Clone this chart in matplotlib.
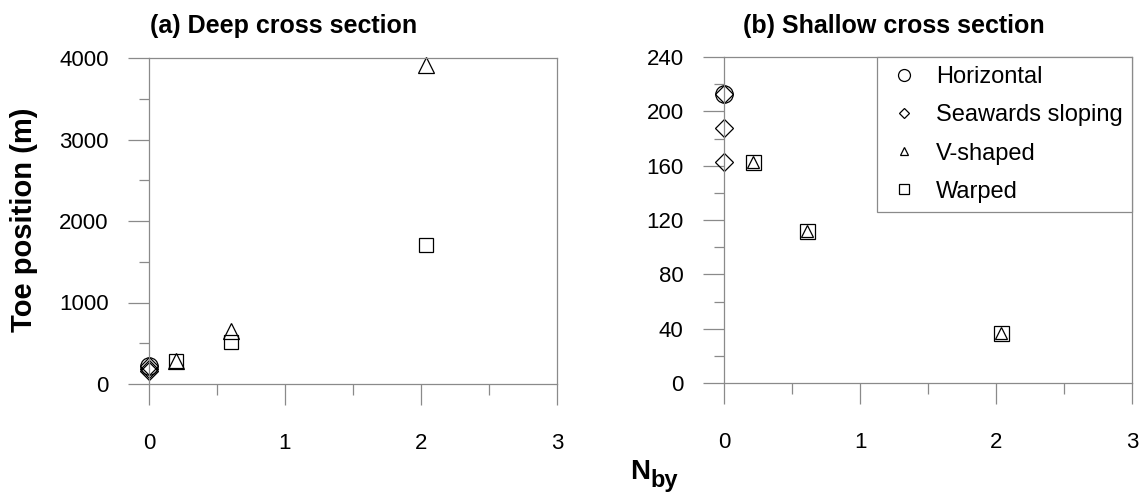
import matplotlib
matplotlib.use('Agg')
import matplotlib.pyplot as plt
from matplotlib.lines import Line2D
from matplotlib.ticker import MultipleLocator

plt.rcParams['font.family'] = ['Liberation Sans', 'DejaVu Sans']

# ── data ──
nby_horizontal_deep = [0.0]
toe_horizontal_deep = [215]
nby_seaward_deep = [0.0, 0.0, 0.0]
toe_seaward_deep = [155, 185, 215]
nby_vshaped_deep = [0.2, 0.6, 2.04]
toe_vshaped_deep = [282, 650, 3920]
nby_warped_deep = [0.2, 0.6, 2.04]
toe_warped_deep = [282, 520, 1705]

nby_horizontal_shallow = [0.0]
toe_horizontal_shallow = [213]
nby_seaward_shallow = [0.0, 0.0, 0.0]
toe_seaward_shallow = [213, 187.5, 162.5]
nby_vshaped_shallow = [0.21, 0.61, 2.04]
toe_vshaped_shallow = [162.5, 112, 37]
nby_warped_shallow = [0.21, 0.61, 2.04]
toe_warped_shallow = [162.5, 112, 37]

series_labels = ['Horizontal', 'Seawards sloping', 'V-shaped', 'Warped']

AXIS_GREY = '#8a8a8a'
W, H = 1141, 495

fig = plt.figure(figsize=(W / 100, H / 100), dpi=100)
ax1 = fig.add_axes([149 / W, 111 / H, 408 / W, 326 / H])
ax2 = fig.add_axes([724 / W, 112 / H, 408 / W, 326 / H])


def style_axes(ax, ymax, ymajor):
    ax.set_xlim(0, 3)
    ax.set_ylim(0, ymax)
    ax.xaxis.set_major_locator(MultipleLocator(1))
    ax.xaxis.set_minor_locator(MultipleLocator(0.5))
    ax.yaxis.set_major_locator(MultipleLocator(ymajor))
    ax.yaxis.set_minor_locator(MultipleLocator(ymajor / 2))
    for sp in ax.spines.values():
        sp.set_color(AXIS_GREY)
        sp.set_linewidth(0.9)
    ax.tick_params(axis='both', which='both', direction='out', color=AXIS_GREY,
                   width=0.9, labelsize=16, labelcolor='black')
    ax.tick_params(axis='y', which='major', length=15, pad=14)
    ax.tick_params(axis='y', which='minor', length=7.5)
    ax.tick_params(axis='x', which='major', length=15, pad=20)
    ax.tick_params(axis='x', which='minor', length=8)


mk = dict(linestyle='none', markerfacecolor='none', markeredgecolor='black',
          markeredgewidth=0.9)

# ── (a) Deep cross section ──
ax1.plot(nby_warped_deep, toe_warped_deep, marker='s', markersize=10.5, clip_on=False, **mk)
ax1.plot(nby_vshaped_deep, toe_vshaped_deep, marker='^', markersize=12, clip_on=False, **mk)
ax1.plot(nby_seaward_deep, toe_seaward_deep, marker='D', markersize=8.7, clip_on=False, **mk)
ax1.plot(nby_horizontal_deep, toe_horizontal_deep, marker='o', markersize=12.5, clip_on=False, **mk)
style_axes(ax1, 4000, 1000)

# ── (b) Shallow cross section ──
ax2.plot(nby_warped_shallow, toe_warped_shallow, marker='s', markersize=10.8, clip_on=False, **mk)
ax2.plot(nby_vshaped_shallow, toe_vshaped_shallow, marker='^', markersize=8.5, clip_on=False, **mk)
ax2.plot(nby_seaward_shallow, toe_seaward_shallow, marker='D', markersize=8.7, clip_on=False, **mk)
ax2.plot(nby_horizontal_shallow, toe_horizontal_shallow, marker='o', markersize=12.5, clip_on=False, **mk)
style_axes(ax2, 240, 40)

handles = [
    Line2D([], [], marker='o', markersize=8.6, **mk),
    Line2D([], [], marker='D', markersize=5.2, **mk),
    Line2D([], [], marker='^', markersize=6.0, **mk),
    Line2D([], [], marker='s', markersize=6.5, **mk),
]
leg = ax2.legend(handles, series_labels, loc='upper right', fontsize=17,
                 frameon=True, fancybox=False, framealpha=1, edgecolor=AXIS_GREY,
                 borderaxespad=0, borderpad=0.4, handlelength=1.5,
                 handletextpad=0.6, labelspacing=0.68)
leg.get_frame().set_linewidth(0.9)

# titles and axis labels
fig.text(283.5 / W, 1 - 33 / H, '(a) Deep cross section', ha='center',
         va='baseline', fontsize=18, fontweight='bold')
fig.text(894 / W, 1 - 33 / H, '(b) Shallow cross section', ha='center',
         va='baseline', fontsize=18, fontweight='bold')
fig.text(24 / W, 1 - 220 / H, 'Toe position (m)', rotation=90, ha='center',
         va='center', fontsize=21, fontweight='bold')

n_txt = fig.text(630 / W, 1 - 479 / H, 'N', ha='left', va='baseline',
                 fontsize=20, fontweight='bold')
fig.canvas.draw()
bb = n_txt.get_window_extent(fig.canvas.get_renderer())
fig.text(bb.x1 / W, 1 - 487 / H, 'by', ha='left', va='baseline',
         fontsize=17, fontweight='bold')

fig.savefig('out.png', dpi=100)
